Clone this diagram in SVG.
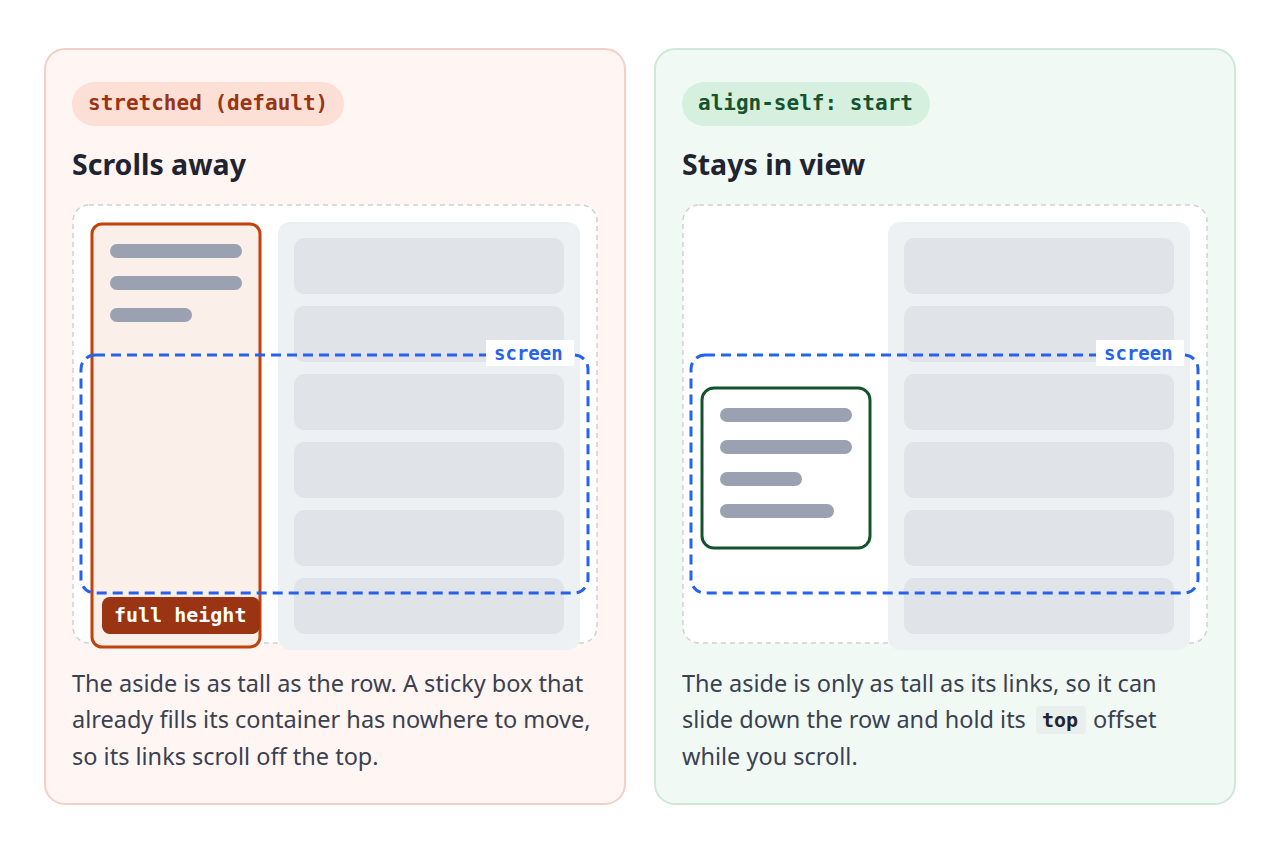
<svg xmlns="http://www.w3.org/2000/svg" width="1280" height="858" viewBox="0 0 1280 858">
<style>
.mono{font-family:"DejaVu Sans Mono","Liberation Mono",monospace;font-weight:bold}
.title{font-family:"Noto Sans","Open Sans",sans-serif;font-weight:bold;font-size:28.5px;fill:#1f2430}
.body{font-family:"Noto Sans","Open Sans",sans-serif;font-size:23.5px;fill:#3a4150}
.frame{fill:#fff;stroke:#cfd2d6;stroke-width:1.5;stroke-dasharray:5 4}
.col{fill:#eef1f4}
.card{fill:#e0e3e8}
.bar{fill:#9aa2b1}
.screen{fill:none;stroke:#2563eb;stroke-width:3;stroke-dasharray:10 6}
.slabel{font-size:19px;fill:#2563eb}
</style>
<rect width="1280" height="858" fill="#fff"/>
<g id="left">
<rect x="45" y="49" width="580" height="755" rx="20" fill="#fff5f3" stroke="#f3cfc6" stroke-width="2"/>
<rect x="72" y="82" width="272" height="44" rx="22" fill="#fce0d6"/>
<text x="88" y="110" class="mono" font-size="21" fill="#9a3412">stretched (default)</text>
<text x="72" y="175" class="title">Scrolls away</text>
<rect x="73" y="205" width="524" height="438" rx="16" class="frame"/>
<rect x="278" y="222" width="302" height="428" rx="12" class="col"/>
<rect x="294" y="238" width="270" height="56" rx="10" class="card"/>
<rect x="294" y="306" width="270" height="56" rx="10" class="card"/>
<rect x="294" y="374" width="270" height="56" rx="10" class="card"/>
<rect x="294" y="442" width="270" height="56" rx="10" class="card"/>
<rect x="294" y="510" width="270" height="56" rx="10" class="card"/>
<rect x="294" y="578" width="270" height="56" rx="10" class="card"/>
<rect x="92" y="224" width="168" height="423" rx="10" fill="#fbefe9" stroke="#c2410c" stroke-width="3"/>
<rect x="110" y="244" width="132" height="14" rx="7" class="bar"/>
<rect x="110" y="276" width="132" height="14" rx="7" class="bar"/>
<rect x="110" y="308" width="82" height="14" rx="7" class="bar"/>
<rect x="81" y="355" width="507" height="238" rx="14" class="screen"/>
<rect x="486" y="340" width="88" height="26" fill="#fff"/>
<text x="494" y="360" class="mono slabel">screen</text>
<rect x="102" y="597" width="158" height="37" rx="8" fill="#9a3412"/>
<text x="114" y="622" class="mono" font-size="20" fill="#fff">full height</text>
<text x="72" y="692" class="body">The aside is as tall as the row. A sticky box that</text>
<text x="72" y="728" class="body">already fills its container has nowhere to move,</text>
<text x="72" y="765" class="body">so its links scroll off the top.</text>
</g>
<g id="right">
<rect x="655" y="49" width="580" height="755" rx="20" fill="#f1f9f4" stroke="#cfe8d7" stroke-width="2"/>
<rect x="682" y="82" width="248" height="44" rx="22" fill="#d5f0de"/>
<text x="698" y="110" class="mono" font-size="21" fill="#14532d">align-self: start</text>
<text x="682" y="175" class="title">Stays in view</text>
<rect x="683" y="205" width="524" height="438" rx="16" class="frame"/>
<rect x="888" y="222" width="302" height="428" rx="12" class="col"/>
<rect x="904" y="238" width="270" height="56" rx="10" class="card"/>
<rect x="904" y="306" width="270" height="56" rx="10" class="card"/>
<rect x="904" y="374" width="270" height="56" rx="10" class="card"/>
<rect x="904" y="442" width="270" height="56" rx="10" class="card"/>
<rect x="904" y="510" width="270" height="56" rx="10" class="card"/>
<rect x="904" y="578" width="270" height="56" rx="10" class="card"/>
<rect x="691" y="355" width="507" height="238" rx="14" class="screen"/>
<rect x="1096" y="340" width="88" height="26" fill="#fff"/>
<text x="1104" y="360" class="mono slabel">screen</text>
<rect x="702" y="388" width="168" height="160" rx="12" fill="#fff" stroke="#14532d" stroke-width="3"/>
<rect x="720" y="408" width="132" height="14" rx="7" class="bar"/>
<rect x="720" y="440" width="132" height="14" rx="7" class="bar"/>
<rect x="720" y="472" width="82" height="14" rx="7" class="bar"/>
<rect x="720" y="504" width="114" height="14" rx="7" class="bar"/>
<text x="682" y="692" class="body">The aside is only as tall as its links, so it can</text>
<rect x="1036" y="706" width="50" height="28" rx="4" fill="#e9efec"/>
<text x="682" y="728" class="body">slide down the row and hold its</text>
<text x="1042" y="727" class="mono" font-size="20" fill="#1f2430">top</text>
<text x="1093" y="728" class="body">offset</text>
<text x="682" y="765" class="body">while you scroll.</text>
</g>
</svg>
